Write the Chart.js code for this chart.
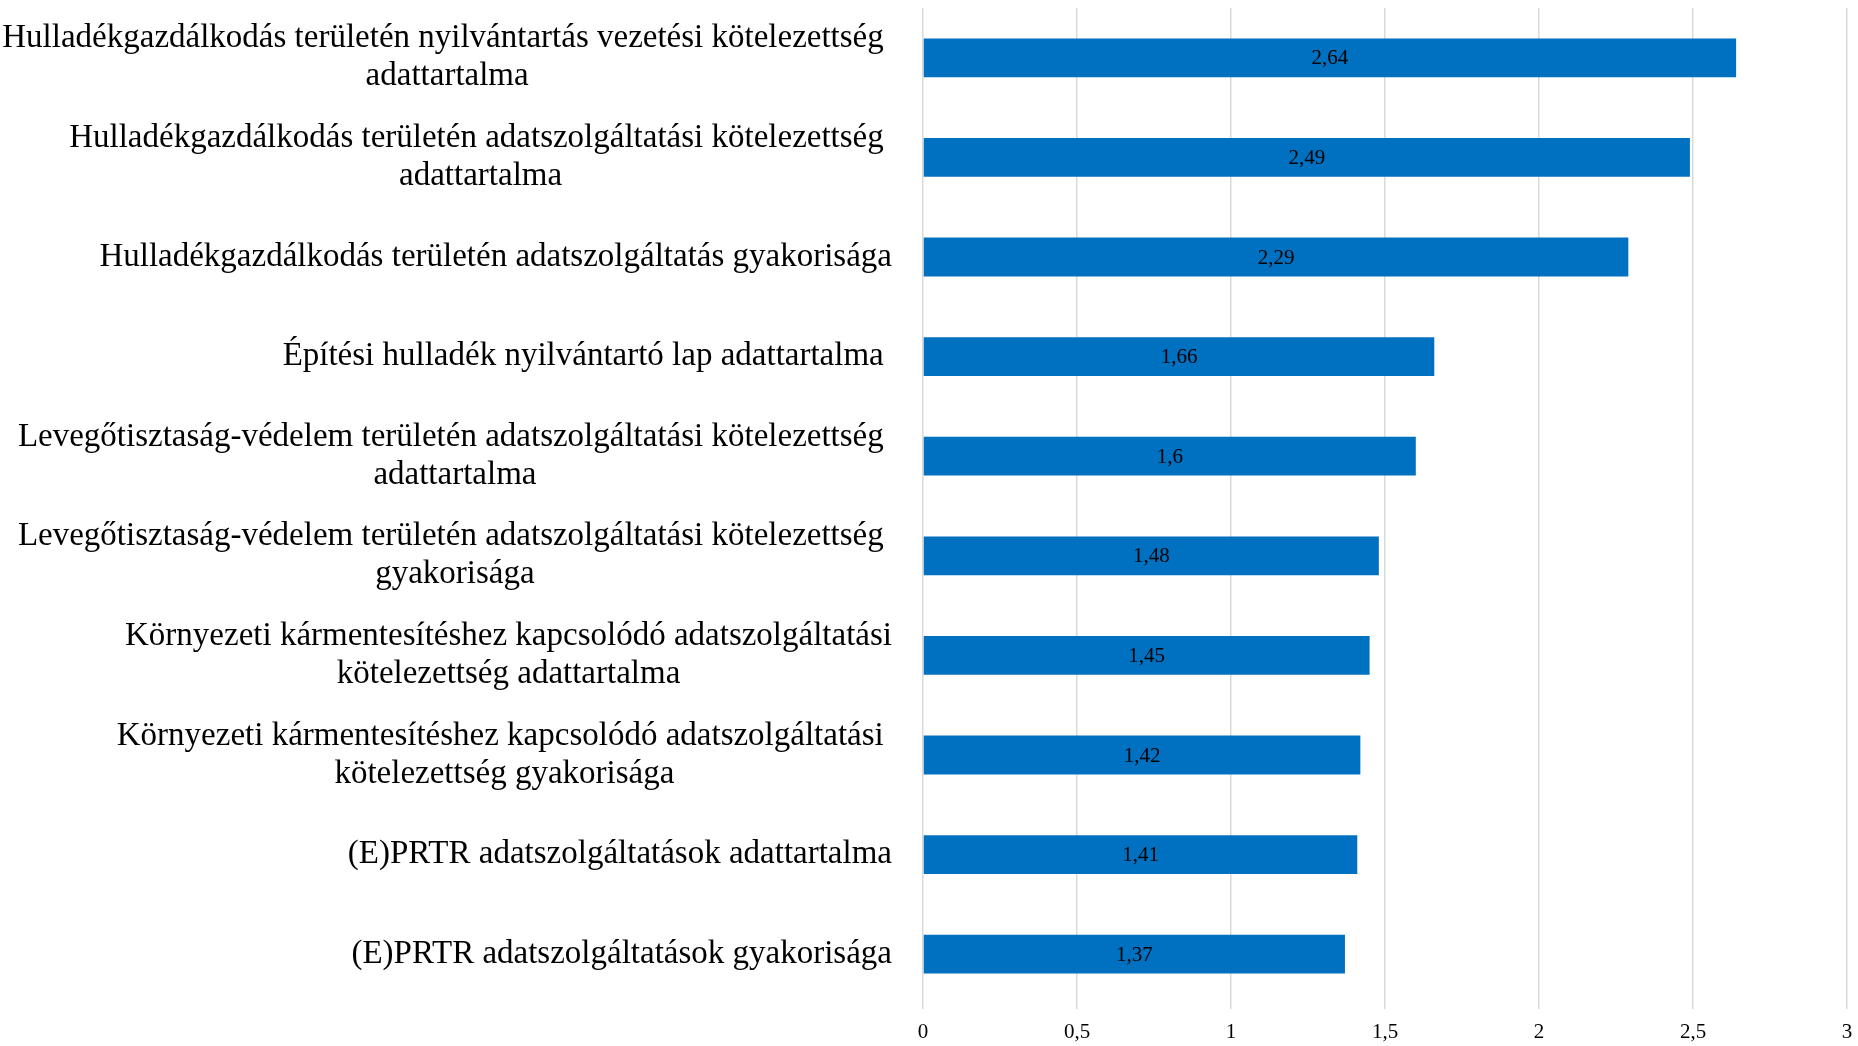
<!DOCTYPE html>
<html>
<head>
<meta charset="utf-8">
<script src="https://cdn.jsdelivr.net/npm/chart.js@4.4.1/dist/chart.umd.min.js"></script>
<style>
  body {
    margin: 0;
    background-color: #ffffff;
  }
  #chartBox {
    width: 1858px;
    height: 1046px;
  }
</style>
</head>
<body>
<div id="chartBox"><canvas id="myChart" width="1858" height="1046"></canvas></div>
<script>
let categories = [
  ["Hulladékgazdálkodás területén nyilvántartás vezetési kötelezettség ", "adattartalma"],
  ["Hulladékgazdálkodás területén adatszolgáltatási kötelezettség ", "adattartalma"],
  ["Hulladékgazdálkodás területén adatszolgáltatás gyakorisága"],
  ["Építési hulladék nyilvántartó lap adattartalma "],
  ["Levegőtisztaság-védelem területén adatszolgáltatási kötelezettség ", "adattartalma"],
  ["Levegőtisztaság-védelem területén adatszolgáltatási kötelezettség ", "gyakorisága"],
  ["Környezeti kármentesítéshez kapcsolódó adatszolgáltatási", "kötelezettség adattartalma"],
  ["Környezeti kármentesítéshez kapcsolódó adatszolgáltatási ", "kötelezettség gyakorisága"],
  ["(E)PRTR adatszolgáltatások adattartalma"],
  ["(E)PRTR adatszolgáltatások gyakorisága"],
];
let values = [2.64, 2.49, 2.29, 1.66, 1.6, 1.48, 1.45, 1.42, 1.41, 1.37];
let xTicks = [0, 0.5, 1, 1.5, 2, 2.5, 3];

let serif = "'Liberation Serif', 'DejaVu Serif', serif";

function formatNumber(n) {
  return String(n).replace(".", ",");
}

// category labels: block right-aligned next to the plot, lines centered in the block
let categoryLabels = {
  id: "categoryLabels",
  afterDraw(chart) {
    let ctx = chart.ctx;
    let yScale = chart.scales.y;
    let right = chart.chartArea.left - 31;
    ctx.save();
    ctx.font = "33px " + serif;
    ctx.fillStyle = "#000000";
    ctx.textAlign = "center";
    ctx.textBaseline = "middle";
    for (let i = 0; i < categories.length; i++) {
      let lines = categories[i];
      let widest = 0;
      for (let j = 0; j < lines.length; j++) {
        widest = Math.max(widest, ctx.measureText(lines[j]).width);
      }
      let centerX = right - widest / 2;
      let y = yScale.getPixelForTick(i);
      let lineHeight = 38;
      let startY = y - ((lines.length - 1) * lineHeight) / 2;
      for (let j = 0; j < lines.length; j++) {
        ctx.fillText(lines[j], centerX, startY + j * lineHeight);
      }
    }
    ctx.restore();
  },
};

// value labels in the middle of each bar
let barLabels = {
  id: "barLabels",
  afterDatasetsDraw(chart) {
    let ctx = chart.ctx;
    let meta = chart.getDatasetMeta(0);
    ctx.save();
    ctx.font = "21px " + serif;
    ctx.fillStyle = "#000000";
    ctx.textAlign = "center";
    ctx.textBaseline = "middle";
    meta.data.forEach((bar, i) => {
      let x = (bar.x + bar.base) / 2;
      ctx.fillText(formatNumber(values[i]), x, bar.y + 1);
    });
    ctx.restore();
  },
};

function loadChart() {
  const ctx = document.getElementById("myChart");

  new Chart(ctx, {
    type: "bar",
    data: {
      labels: categories,
      datasets: [
        {
          data: values,
          backgroundColor: "#0070C0",
          borderWidth: 0,
          barPercentage: 0.39,
          categoryPercentage: 1,
        },
      ],
    },
    options: {
      indexAxis: "y",
      responsive: false,
      animation: false,
      layout: {
        padding: {
          left: 923,
          top: 8,
          right: 11,
          bottom: 4,
        },
      },
      scales: {
        x: {
          min: 0,
          max: 3,
          afterBuildTicks(scale) {
            scale.ticks = xTicks.map((v) => ({ value: v }));
          },
          afterFit(scale) {
            scale.height = 38;
            scale.paddingLeft = 0;
            scale.paddingRight = 0;
          },
          grid: {
            color: "#d9d9d9",
            lineWidth: 1.5,
            tickLength: 5,
          },
          border: {
            display: false,
          },
          ticks: {
            padding: 11,
            color: "#000000",
            font: {
              family: serif,
              size: 21,
            },
            callback: (v) => formatNumber(v),
          },
        },
        y: {
          display: false,
        },
      },
      plugins: {
        legend: {
          display: false,
        },
        tooltip: {
          enabled: false,
        },
      },
    },
    plugins: [categoryLabels, barLabels],
  });
}

document.fonts.load("33px 'Liberation Serif'").then(loadChart, loadChart);
</script>
</body>
</html>
